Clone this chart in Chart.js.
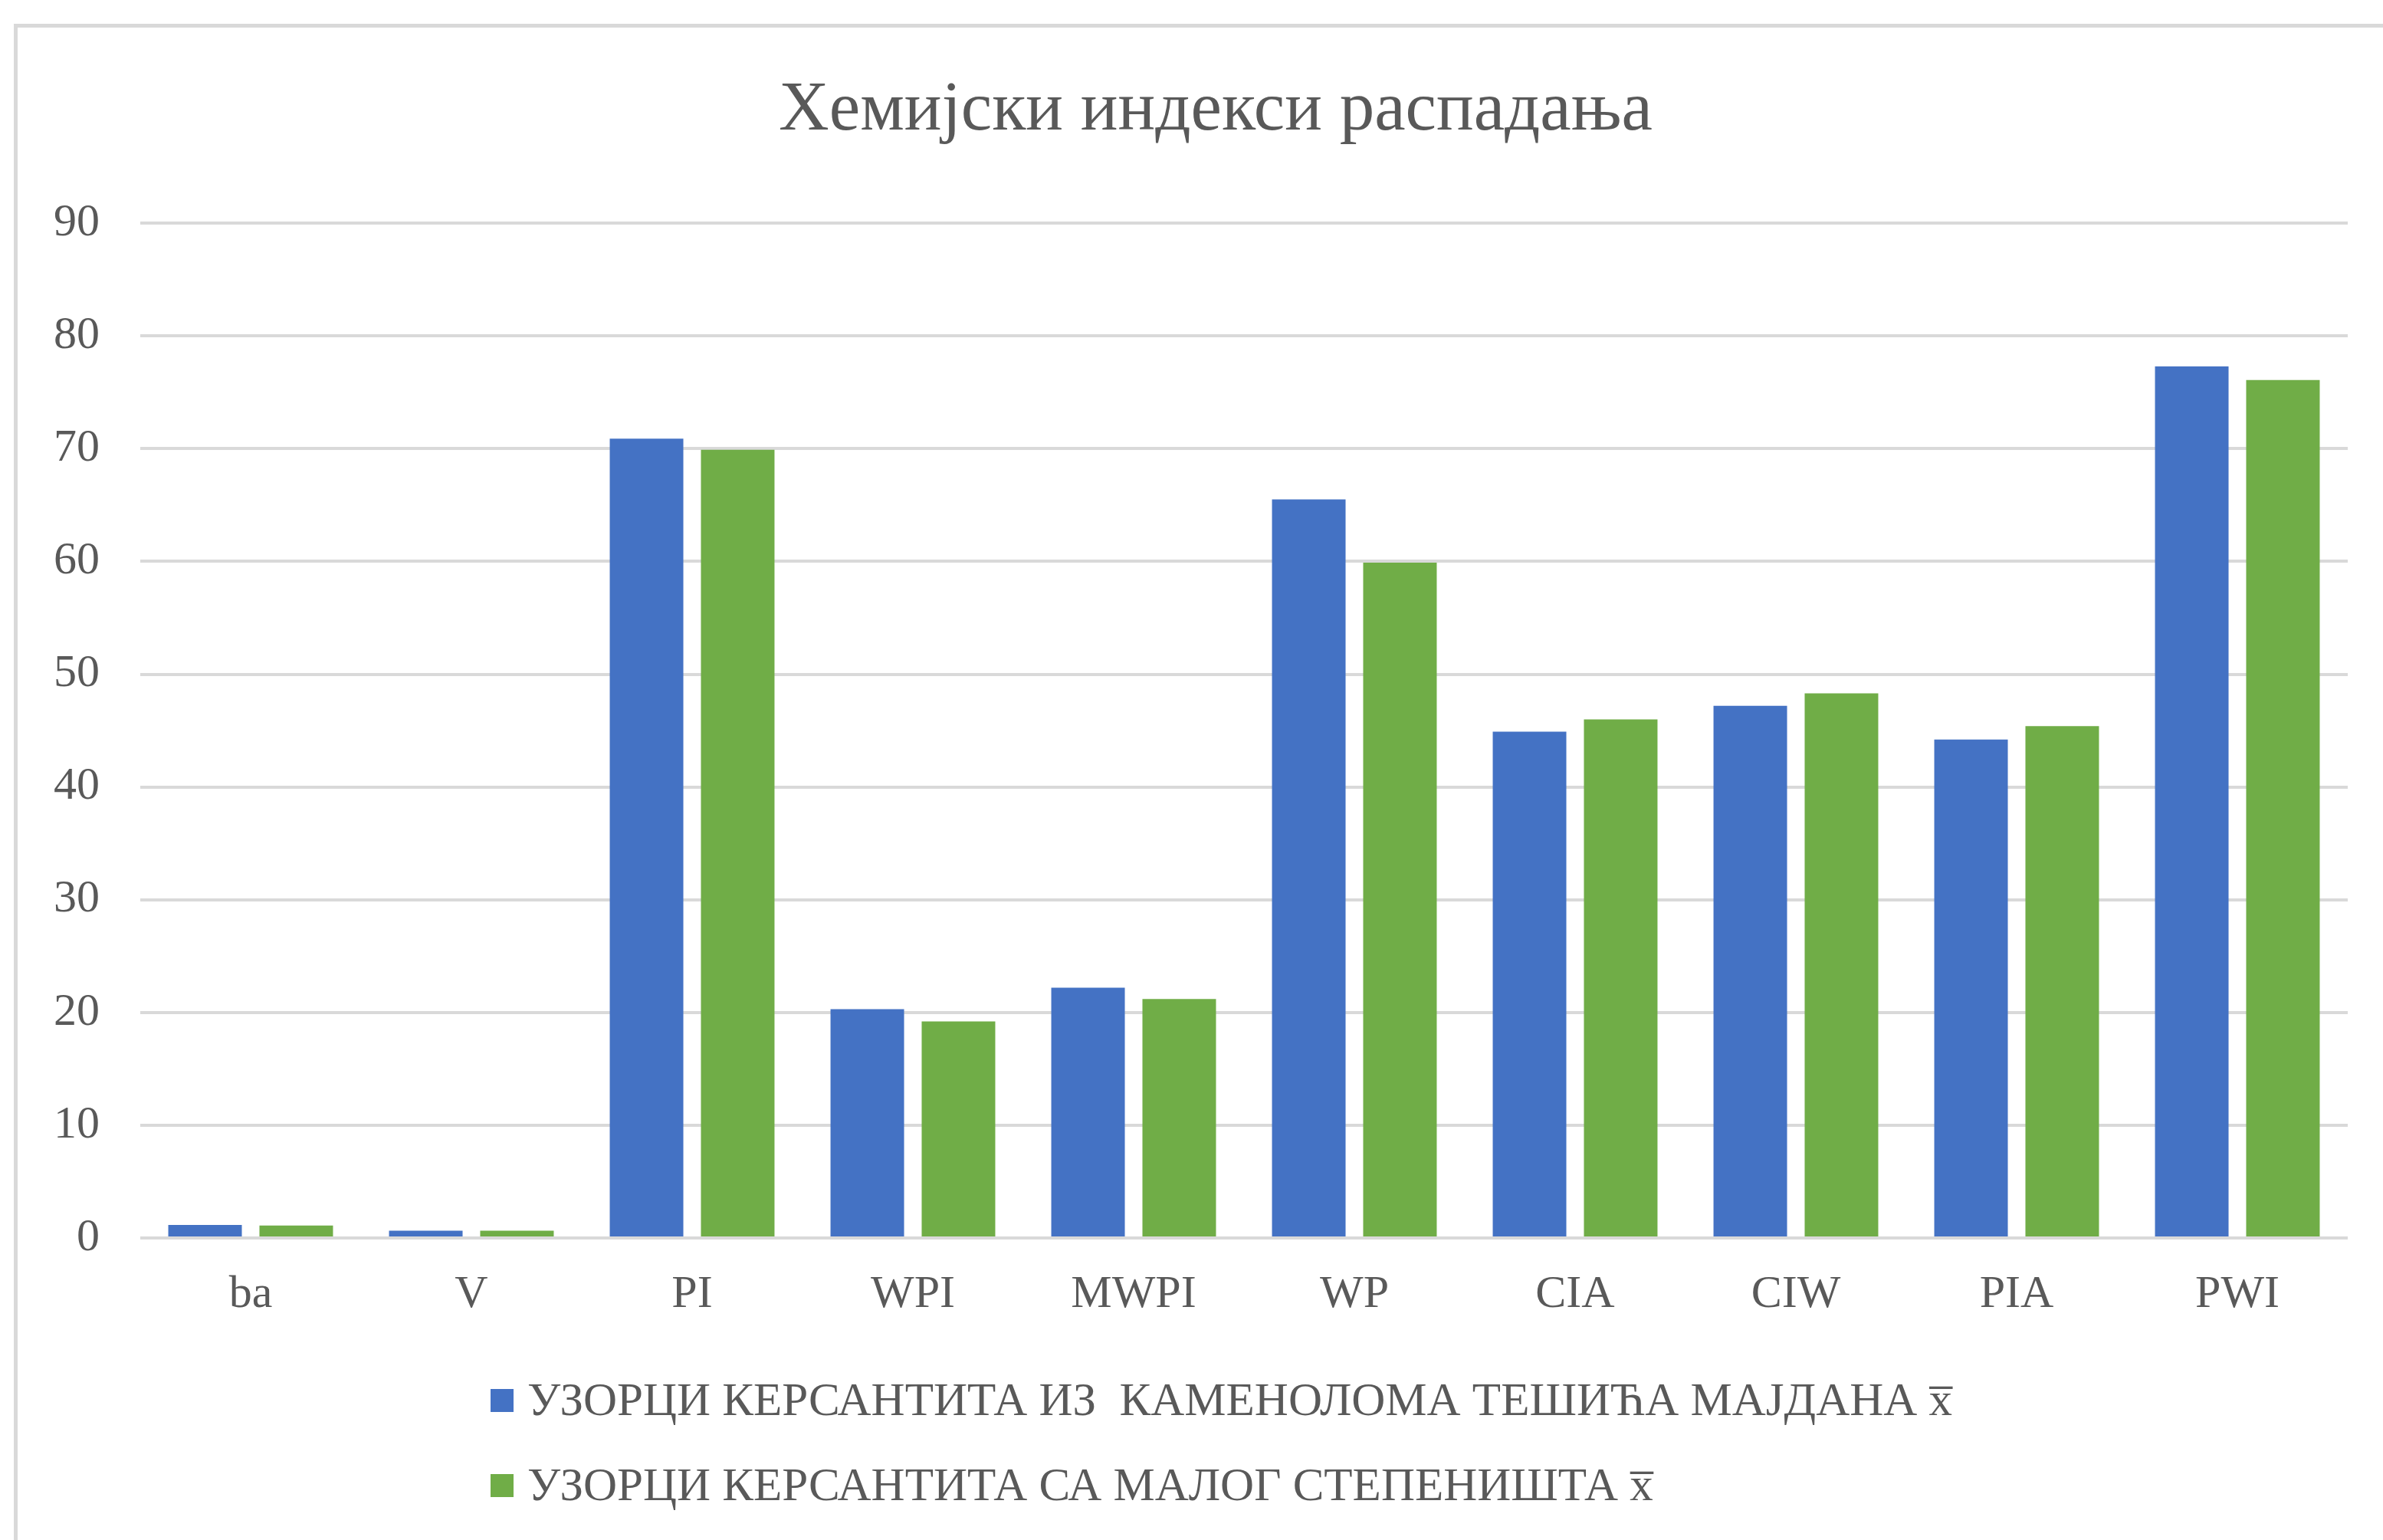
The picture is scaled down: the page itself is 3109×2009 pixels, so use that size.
<!DOCTYPE html>
<html>
<head>
<meta charset="utf-8">
<script src="https://cdn.jsdelivr.net/npm/chart.js@4.4.1/dist/chart.umd.min.js"></script>
<style>
    html, body { margin: 0; padding: 0; background: #ffffff; overflow: hidden; }
    #frame {
        position: absolute;
        left: 18px;
        top: 31px;
        border: 5px solid #d9d9d9;
        background: #ffffff;
    }
    canvas { display: block; }
</style>
</head>
<body>
<div id="frame">
    <canvas id="grafikon" width="3126" height="1973"></canvas>
</div>
<script>
const indeksi = ['ba', 'V', 'PI', 'WPI', 'MWPI', 'WP', 'CIA', 'CIW', 'PIA', 'PWI'];
const tesicaMajdana = [1.15, 0.65, 70.9, 20.3, 22.2, 65.5, 44.9, 47.2, 44.2, 77.3];
const maloStepeniste = [1.1, 0.65, 69.9, 19.2, 21.2, 59.9, 46.0, 48.3, 45.4, 76.1];
const yTicks = [0, 10, 20, 30, 40, 50, 60, 70, 80, 90];

const naslov = 'Хемијски индекси распадања';
const nazivPlavi = 'УЗОРЦИ КЕРСАНТИТА ИЗ  КАМЕНОЛОМА ТЕШИЋА МАЈДАНА x\u0305';
const nazivZeleni = 'УЗОРЦИ КЕРСАНТИТА СА МАЛОГ СТЕПЕНИШТА x\u0305';

const sivaSlova = '#595959';
const sivaMreza = '#d9d9d9';
const serif = "'Liberation Serif', 'Times New Roman', serif";

// legenda ispod grafikona, stavke poravnate levo jedna ispod druge
const legendaPlugin = {
    id: 'legendaDole',
    afterDraw(chart) {
        const ctx = chart.ctx;
        const x0 = 617;
        const y0 = chart.chartArea.bottom + 212;
        const razmak = 111;
        const kvadrat = 30;
        ctx.save();
        ctx.font = '61px ' + serif;
        ctx.textBaseline = 'middle';
        ctx.textAlign = 'left';
        chart.data.datasets.forEach((ds, i) => {
            const y = y0 + i * razmak;
            ctx.fillStyle = ds.backgroundColor;
            ctx.fillRect(x0, y - kvadrat / 2, kvadrat, kvadrat);
            ctx.fillStyle = sivaSlova;
            ctx.fillText(ds.label, x0 + kvadrat + 18, y + 3);
        });
        ctx.restore();
    }
};

new Chart(document.getElementById('grafikon').getContext('2d'), {
    type: 'bar',
    data: {
        labels: indeksi,
        datasets: [
            { label: nazivPlavi, data: tesicaMajdana, backgroundColor: '#4472c4' },
            { label: nazivZeleni, data: maloStepeniste, backgroundColor: '#70ad47' }
        ]
    },
    options: {
        responsive: false,
        animation: false,
        events: [],
        datasets: { bar: { categoryPercentage: 0.826, barPercentage: 0.807 } },
        layout: { padding: { left: 0, right: 0, top: 0, bottom: 274 } },
        scales: {
            x: {
                grid: { display: false },
                border: { display: false },
                ticks: { color: sivaSlova, font: { family: serif, size: 60 }, padding: 30 },
                afterFit: (scale) => { scale.height = 120; }
            },
            y: {
                min: 0,
                max: 90,
                afterBuildTicks: (scale) => { scale.ticks = yTicks.map(v => ({ value: v })); },
                grid: { color: sivaMreza, lineWidth: 4, drawTicks: false },
                border: { display: false },
                ticks: { color: sivaSlova, font: { family: serif, size: 60 }, padding: 53 },
                afterFit: (scale) => { scale.width = 160; }
            },
            // prazna osa desno, samo pravi razmak do ivice okvira
            desno: {
                position: 'right',
                grid: { display: false },
                border: { display: false },
                ticks: { display: false },
                afterFit: (scale) => { scale.width = 86; }
            }
        },
        plugins: {
            legend: { display: false },
            tooltip: { enabled: false },
            title: {
                display: true,
                text: naslov,
                color: sivaSlova,
                font: { family: serif, size: 91, weight: 'normal' },
                padding: { top: 54, bottom: 92 }
            }
        }
    },
    plugins: [legendaPlugin]
});
</script>
</body>
</html>
